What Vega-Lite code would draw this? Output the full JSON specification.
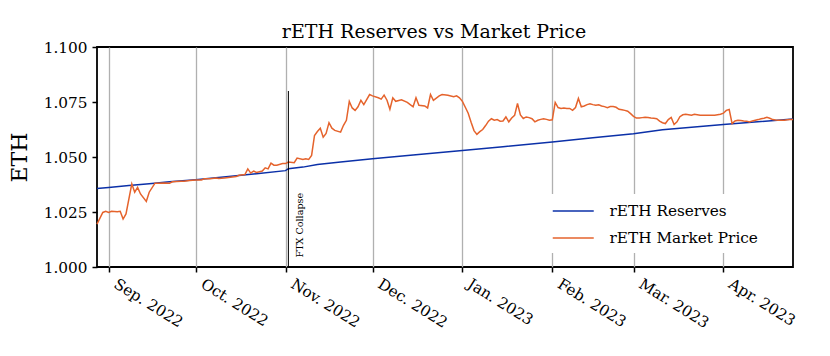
{
  "$schema": "https://vega.github.io/schema/vega-lite/v6.json",
  "autosize": {"type": "none"},
  "padding": {"left": 97, "top": 47, "right": 37, "bottom": 89},
  "width": 696,
  "height": 220,
  "title": {"text": "rETH Reserves vs Market Price", "font": "DejaVu Serif", "fontSize": 19, "fontWeight": "normal", "color": "black", "frame": "group", "offset": -2, "dx": -11},
  "datasets": {
    "reserves": [
      {"date": "2022-08-28", "eth": 1.0357}, {"date": "2022-09-01", "eth": 1.0361}, {"date": "2022-09-08", "eth": 1.0370},
      {"date": "2022-09-15", "eth": 1.0378}, {"date": "2022-09-22", "eth": 1.0387}, {"date": "2022-10-01", "eth": 1.0397},
      {"date": "2022-10-08", "eth": 1.0406}, {"date": "2022-10-15", "eth": 1.0415}, {"date": "2022-10-22", "eth": 1.0424},
      {"date": "2022-11-01", "eth": 1.0438}, {"date": "2022-11-02", "eth": 1.0447}, {"date": "2022-11-07", "eth": 1.0454},
      {"date": "2022-11-12", "eth": 1.0466}, {"date": "2022-11-20", "eth": 1.0477}, {"date": "2022-12-01", "eth": 1.0492},
      {"date": "2022-12-15", "eth": 1.0509}, {"date": "2023-01-01", "eth": 1.0530}, {"date": "2023-01-15", "eth": 1.0547},
      {"date": "2023-02-01", "eth": 1.0568}, {"date": "2023-02-15", "eth": 1.0587}, {"date": "2023-03-01", "eth": 1.0606},
      {"date": "2023-03-11", "eth": 1.0624}, {"date": "2023-04-01", "eth": 1.0648}, {"date": "2023-04-25", "eth": 1.0673}
    ],
    "market": [
      {"date": "2022-08-28", "eth": 1.0195}, {"date": "2022-08-30", "eth": 1.0248}, {"date": "2022-08-31", "eth": 1.0253},
      {"date": "2022-09-01", "eth": 1.0248}, {"date": "2022-09-02", "eth": 1.0253}, {"date": "2022-09-04", "eth": 1.0251},
      {"date": "2022-09-05", "eth": 1.0253}, {"date": "2022-09-06", "eth": 1.0218}, {"date": "2022-09-07", "eth": 1.0241},
      {"date": "2022-09-09", "eth": 1.0378}, {"date": "2022-09-10", "eth": 1.0340}, {"date": "2022-09-11", "eth": 1.0362},
      {"date": "2022-09-12", "eth": 1.0332}, {"date": "2022-09-14", "eth": 1.0298}, {"date": "2022-09-15", "eth": 1.0340},
      {"date": "2022-09-17", "eth": 1.0381}, {"date": "2022-09-18", "eth": 1.0381}, {"date": "2022-09-20", "eth": 1.0382},
      {"date": "2022-09-22", "eth": 1.0381}, {"date": "2022-09-23", "eth": 1.0387}, {"date": "2022-09-26", "eth": 1.0390},
      {"date": "2022-09-27", "eth": 1.0390}, {"date": "2022-09-29", "eth": 1.0393}, {"date": "2022-10-01", "eth": 1.0396},
      {"date": "2022-10-03", "eth": 1.0396}, {"date": "2022-10-04", "eth": 1.0401}, {"date": "2022-10-06", "eth": 1.0401},
      {"date": "2022-10-08", "eth": 1.0405}, {"date": "2022-10-09", "eth": 1.0402}, {"date": "2022-10-11", "eth": 1.0405},
      {"date": "2022-10-13", "eth": 1.0408}, {"date": "2022-10-15", "eth": 1.0411}, {"date": "2022-10-16", "eth": 1.0417},
      {"date": "2022-10-18", "eth": 1.0420}, {"date": "2022-10-19", "eth": 1.0446}, {"date": "2022-10-20", "eth": 1.0427},
      {"date": "2022-10-21", "eth": 1.0436}, {"date": "2022-10-22", "eth": 1.0430}, {"date": "2022-10-24", "eth": 1.0436},
      {"date": "2022-10-25", "eth": 1.0451}, {"date": "2022-10-26", "eth": 1.0446}, {"date": "2022-10-27", "eth": 1.0472},
      {"date": "2022-10-28", "eth": 1.0463}, {"date": "2022-10-29", "eth": 1.0463}, {"date": "2022-10-31", "eth": 1.0470},
      {"date": "2022-11-01", "eth": 1.0470}, {"date": "2022-11-02", "eth": 1.0477}, {"date": "2022-11-04", "eth": 1.0474},
      {"date": "2022-11-05", "eth": 1.0495}, {"date": "2022-11-07", "eth": 1.0489}, {"date": "2022-11-08", "eth": 1.0492},
      {"date": "2022-11-09", "eth": 1.0489}, {"date": "2022-11-10", "eth": 1.0507}, {"date": "2022-11-11", "eth": 1.0598},
      {"date": "2022-11-12", "eth": 1.0616}, {"date": "2022-11-13", "eth": 1.0631}, {"date": "2022-11-14", "eth": 1.0590},
      {"date": "2022-11-15", "eth": 1.0607}, {"date": "2022-11-16", "eth": 1.0656}, {"date": "2022-11-17", "eth": 1.0631},
      {"date": "2022-11-18", "eth": 1.0621}, {"date": "2022-11-20", "eth": 1.0613}, {"date": "2022-11-21", "eth": 1.0644},
      {"date": "2022-11-22", "eth": 1.0667}, {"date": "2022-11-23", "eth": 1.0753}, {"date": "2022-11-24", "eth": 1.0723},
      {"date": "2022-11-25", "eth": 1.0712}, {"date": "2022-11-26", "eth": 1.0728}, {"date": "2022-11-27", "eth": 1.0758},
      {"date": "2022-11-28", "eth": 1.0738}, {"date": "2022-11-30", "eth": 1.0784}, {"date": "2022-12-01", "eth": 1.0778},
      {"date": "2022-12-03", "eth": 1.0769}, {"date": "2022-12-04", "eth": 1.0763}, {"date": "2022-12-05", "eth": 1.0781},
      {"date": "2022-12-06", "eth": 1.0758}, {"date": "2022-12-07", "eth": 1.0717}, {"date": "2022-12-08", "eth": 1.0769},
      {"date": "2022-12-09", "eth": 1.0753}, {"date": "2022-12-11", "eth": 1.0760}, {"date": "2022-12-13", "eth": 1.0748},
      {"date": "2022-12-14", "eth": 1.0738}, {"date": "2022-12-15", "eth": 1.0728}, {"date": "2022-12-16", "eth": 1.0769},
      {"date": "2022-12-17", "eth": 1.0735}, {"date": "2022-12-19", "eth": 1.0732}, {"date": "2022-12-20", "eth": 1.0723},
      {"date": "2022-12-21", "eth": 1.0784}, {"date": "2022-12-22", "eth": 1.0758}, {"date": "2022-12-24", "eth": 1.0778},
      {"date": "2022-12-25", "eth": 1.0784}, {"date": "2022-12-27", "eth": 1.0781}, {"date": "2022-12-29", "eth": 1.0774},
      {"date": "2022-12-30", "eth": 1.0778}, {"date": "2022-12-31", "eth": 1.0769}, {"date": "2023-01-01", "eth": 1.0753},
      {"date": "2023-01-02", "eth": 1.0726}, {"date": "2023-01-03", "eth": 1.0699}, {"date": "2023-01-04", "eth": 1.0658},
      {"date": "2023-01-05", "eth": 1.0620}, {"date": "2023-01-06", "eth": 1.0603}, {"date": "2023-01-07", "eth": 1.0615},
      {"date": "2023-01-08", "eth": 1.0625}, {"date": "2023-01-09", "eth": 1.0643}, {"date": "2023-01-10", "eth": 1.0663},
      {"date": "2023-01-11", "eth": 1.0674}, {"date": "2023-01-12", "eth": 1.0667}, {"date": "2023-01-13", "eth": 1.0670},
      {"date": "2023-01-14", "eth": 1.0663}, {"date": "2023-01-15", "eth": 1.0664}, {"date": "2023-01-16", "eth": 1.0682},
      {"date": "2023-01-17", "eth": 1.0660}, {"date": "2023-01-18", "eth": 1.0677}, {"date": "2023-01-19", "eth": 1.0689},
      {"date": "2023-01-20", "eth": 1.0743}, {"date": "2023-01-21", "eth": 1.0691}, {"date": "2023-01-22", "eth": 1.0675},
      {"date": "2023-01-23", "eth": 1.0682}, {"date": "2023-01-24", "eth": 1.0679}, {"date": "2023-01-25", "eth": 1.0674},
      {"date": "2023-01-26", "eth": 1.0660}, {"date": "2023-01-27", "eth": 1.0667}, {"date": "2023-01-28", "eth": 1.0671},
      {"date": "2023-01-29", "eth": 1.0674}, {"date": "2023-01-30", "eth": 1.0671}, {"date": "2023-01-31", "eth": 1.0667},
      {"date": "2023-02-01", "eth": 1.0669}, {"date": "2023-02-02", "eth": 1.0748}, {"date": "2023-02-03", "eth": 1.0725},
      {"date": "2023-02-04", "eth": 1.0721}, {"date": "2023-02-05", "eth": 1.0723}, {"date": "2023-02-06", "eth": 1.0721},
      {"date": "2023-02-07", "eth": 1.0721}, {"date": "2023-02-08", "eth": 1.0712}, {"date": "2023-02-09", "eth": 1.0725},
      {"date": "2023-02-10", "eth": 1.0766}, {"date": "2023-02-11", "eth": 1.0728}, {"date": "2023-02-12", "eth": 1.0732},
      {"date": "2023-02-13", "eth": 1.0738}, {"date": "2023-02-14", "eth": 1.0742}, {"date": "2023-02-15", "eth": 1.0738},
      {"date": "2023-02-16", "eth": 1.0735}, {"date": "2023-02-17", "eth": 1.0737}, {"date": "2023-02-18", "eth": 1.0732},
      {"date": "2023-02-19", "eth": 1.0729}, {"date": "2023-02-20", "eth": 1.0724}, {"date": "2023-02-21", "eth": 1.0729},
      {"date": "2023-02-22", "eth": 1.0729}, {"date": "2023-02-23", "eth": 1.0726}, {"date": "2023-02-24", "eth": 1.0717},
      {"date": "2023-02-25", "eth": 1.0715}, {"date": "2023-02-26", "eth": 1.0712}, {"date": "2023-02-27", "eth": 1.0708},
      {"date": "2023-02-28", "eth": 1.0697}, {"date": "2023-03-01", "eth": 1.0685}, {"date": "2023-03-02", "eth": 1.0677},
      {"date": "2023-03-03", "eth": 1.0677}, {"date": "2023-03-04", "eth": 1.0679}, {"date": "2023-03-05", "eth": 1.0681},
      {"date": "2023-03-06", "eth": 1.0680}, {"date": "2023-03-07", "eth": 1.0677}, {"date": "2023-03-08", "eth": 1.0676},
      {"date": "2023-03-09", "eth": 1.0674}, {"date": "2023-03-10", "eth": 1.0663}, {"date": "2023-03-11", "eth": 1.0656},
      {"date": "2023-03-12", "eth": 1.0652}, {"date": "2023-03-13", "eth": 1.0670}, {"date": "2023-03-14", "eth": 1.0680},
      {"date": "2023-03-15", "eth": 1.0648}, {"date": "2023-03-16", "eth": 1.0660}, {"date": "2023-03-17", "eth": 1.0683},
      {"date": "2023-03-18", "eth": 1.0692}, {"date": "2023-03-19", "eth": 1.0694}, {"date": "2023-03-20", "eth": 1.0692},
      {"date": "2023-03-21", "eth": 1.0690}, {"date": "2023-03-22", "eth": 1.0694}, {"date": "2023-03-23", "eth": 1.0692},
      {"date": "2023-03-24", "eth": 1.0690}, {"date": "2023-03-25", "eth": 1.0690}, {"date": "2023-03-26", "eth": 1.0690},
      {"date": "2023-03-27", "eth": 1.0690}, {"date": "2023-03-28", "eth": 1.0690}, {"date": "2023-03-29", "eth": 1.0690},
      {"date": "2023-03-30", "eth": 1.0692}, {"date": "2023-03-31", "eth": 1.0694}, {"date": "2023-04-01", "eth": 1.0699},
      {"date": "2023-04-02", "eth": 1.0712}, {"date": "2023-04-03", "eth": 1.0716}, {"date": "2023-04-04", "eth": 1.0652},
      {"date": "2023-04-05", "eth": 1.0664}, {"date": "2023-04-06", "eth": 1.0667}, {"date": "2023-04-07", "eth": 1.0666},
      {"date": "2023-04-08", "eth": 1.0664}, {"date": "2023-04-09", "eth": 1.0663}, {"date": "2023-04-10", "eth": 1.0659},
      {"date": "2023-04-11", "eth": 1.0664}, {"date": "2023-04-12", "eth": 1.0667}, {"date": "2023-04-13", "eth": 1.0670},
      {"date": "2023-04-14", "eth": 1.0674}, {"date": "2023-04-15", "eth": 1.0676}, {"date": "2023-04-16", "eth": 1.0680},
      {"date": "2023-04-17", "eth": 1.0676}, {"date": "2023-04-18", "eth": 1.0670}, {"date": "2023-04-19", "eth": 1.0668},
      {"date": "2023-04-20", "eth": 1.0667}, {"date": "2023-04-21", "eth": 1.0667}, {"date": "2023-04-22", "eth": 1.0667},
      {"date": "2023-04-23", "eth": 1.0669}, {"date": "2023-04-24", "eth": 1.0670}, {"date": "2023-04-25", "eth": 1.0670}
    ],
    "events": [
      {"date": "2022-11-02", "low": 1.0, "high": 1.08, "label": "FTX Collapse"}
    ]
  },
  "encoding": {
    "x": {
      "field": "date", "type": "temporal", "title": null,
      "scale": {"type": "utc", "domain": [{"year": 2022, "month": 8, "date": 28, "utc": true}, {"year": 2023, "month": 4, "date": 25, "utc": true}]},
      "axis": {
        "values": [
          {"year": 2022, "month": 9, "date": 1, "utc": true}, {"year": 2022, "month": 10, "date": 1, "utc": true},
          {"year": 2022, "month": 11, "date": 1, "utc": true}, {"year": 2022, "month": 12, "date": 1, "utc": true},
          {"year": 2023, "month": 1, "date": 1, "utc": true}, {"year": 2023, "month": 2, "date": 1, "utc": true},
          {"year": 2023, "month": 3, "date": 1, "utc": true}, {"year": 2023, "month": 4, "date": 1, "utc": true}
        ],
        "labelExpr": "utcFormat(datum.value, '%b. %Y')",
        "labelAngle": 32, "labelAlign": "left", "labelBaseline": "top", "labelOffset": 10, "labelPadding": 4,
        "labelFontSize": 15.3, "labelColor": "black", "labelOverlap": false, "labelFlush": false, "labelBound": false,
        "grid": true, "gridColor": "#b0b0b0", "gridWidth": 1.3,
        "tickColor": "black", "tickSize": 5, "tickWidth": 1.5, "domain": false
      }
    }
  },
  "layer": [
    {
      "data": {"name": "reserves"},
      "mark": {"type": "line", "strokeWidth": 1.5},
      "encoding": {
        "y": {
          "field": "eth", "type": "quantitative", "title": "ETH",
          "scale": {"domain": [1.0, 1.1], "zero": false, "nice": false},
          "axis": {
            "values": [1.0, 1.025, 1.05, 1.075, 1.1], "format": ".3f",
            "labelFontSize": 15.3, "labelColor": "black", "labelPadding": 5,
            "tickColor": "black", "tickSize": 5, "tickWidth": 1.5, "domain": false, "grid": false,
            "titleFontSize": 22, "titleFontWeight": "normal", "titleColor": "black", "titlePadding": 12
          }
        },
        "color": {
          "datum": "rETH Reserves",
          "scale": {"domain": ["rETH Reserves", "rETH Market Price"], "range": ["#0b30a8", "#e5632c"]},
          "legend": {
            "title": null, "orient": "none", "legendX": 449, "legendY": 147,
            "symbolType": "M-1,0L3,0", "symbolSize": 420, "symbolStrokeWidth": 1.5, "labelOffset": 35.5,
            "labelFontSize": 15.3, "labelColor": "black", "labelLimit": 400,
            "fillColor": "white", "padding": 6, "rowPadding": 7
          }
        }
      }
    },
    {
      "data": {"name": "market"},
      "mark": {"type": "line", "strokeWidth": 1.5},
      "encoding": {
        "y": {"field": "eth", "type": "quantitative"},
        "color": {"datum": "rETH Market Price"}
      }
    },
    {
      "data": {"name": "events"},
      "mark": {"type": "rule", "color": "black", "strokeWidth": 1},
      "encoding": {
        "y": {"field": "low", "type": "quantitative"},
        "y2": {"field": "high"}
      }
    },
    {
      "data": {"name": "events"},
      "mark": {"type": "text", "angle": 270, "align": "left", "baseline": "alphabetic", "dx": 9.5, "dy": 15, "fontSize": 9.6, "color": "black"},
      "encoding": {
        "y": {"field": "low", "type": "quantitative"},
        "text": {"field": "label"}
      }
    }
  ],
  "config": {
    "font": "DejaVu Serif",
    "view": {"stroke": "black", "strokeWidth": 1.8},
    "axis": {"labelFont": "DejaVu Serif", "titleFont": "DejaVu Serif"},
    "legend": {"labelFont": "DejaVu Serif"}
  }
}
